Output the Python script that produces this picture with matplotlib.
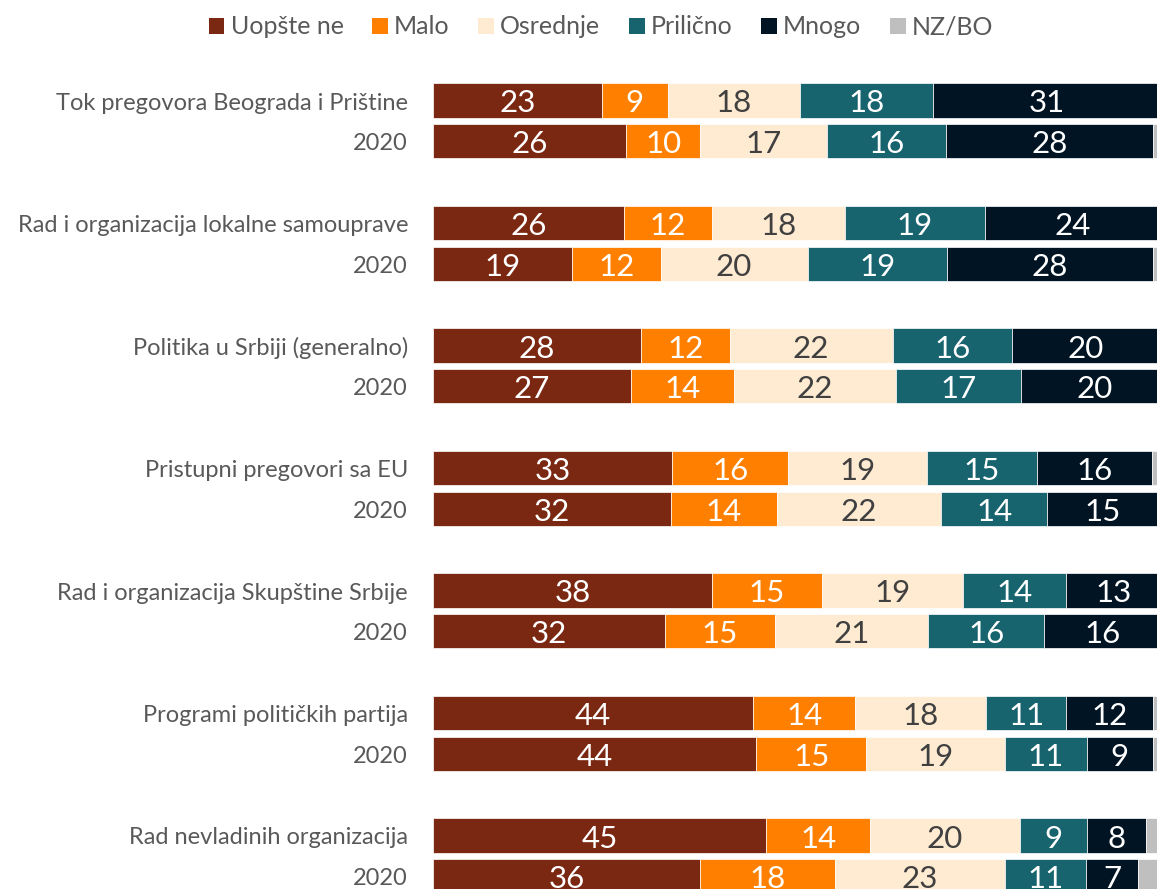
import matplotlib
matplotlib.use("Agg")
import matplotlib.pyplot as plt
from matplotlib.patches import Patch
import numpy as np

plt.rcParams["font.family"] = ["Lato", "DejaVu Sans"]

categories = [
    "Tok pregovora Beograda i Prištine",
    "Rad i organizacija lokalne samouprave",
    "Politika u Srbiji (generalno)",
    "Pristupni pregovori sa EU",
    "Rad i organizacija Skupštine Srbije",
    "Programi političkih partija",
    "Rad nevladinih organizacija",
]
year_label = "2020"

series_names = ["Uopšte ne", "Malo", "Osrednje", "Prilično", "Mnogo", "NZ/BO"]
colors = ["#7B2812", "#FF7F00", "#FFEBD2", "#17636E", "#001423", "#BFBFBF"]
text_colors = ["white", "white", "#404040", "white", "white", None]

# rows: each category followed by its 2020 row
uopste_ne = [23.0, 26.3, 26.0, 19.0, 28.3, 27.0, 32.6, 32.4, 38.0, 31.6, 43.6, 44.0, 45.4, 36.4]
malo = [9.0, 10.1, 12.0, 12.0, 12.1, 14.0, 15.8, 14.4, 15.0, 15.0, 13.9, 15.0, 14.1, 18.3]
osrednje = [18.0, 17.2, 18.1, 20.0, 22.2, 22.0, 18.9, 22.4, 19.2, 20.8, 17.8, 18.9, 20.4, 23.2]
prilicno = [18.0, 16.2, 19.0, 19.0, 16.2, 17.1, 14.9, 14.4, 14.0, 15.8, 10.9, 11.1, 9.1, 11.0]
mnogo = [31.0, 28.2, 24.0, 28.0, 20.0, 19.9, 15.7, 15.2, 13.0, 16.0, 11.8, 9.0, 8.0, 7.1]
nz_bo = [1.0, 2.0, 0.9, 2.0, 1.2, 0.0, 2.1, 1.2, 0.8, 0.8, 2.0, 2.0, 3.0, 4.0]

data = np.array([uopste_ne, malo, osrednje, prilicno, mnogo, nz_bo])

W, H = 1157, 889
fig = plt.figure(figsize=(W / 100, H / 100), dpi=100)

# axes in pixel units; x scale runs past the right edge of the figure
x0_px, px_per_pct = 432.7, 7.35
ax = fig.add_axes([x0_px / W, 0, 100 * px_per_pct / W, 1])
ax.set_xlim(0, 100)
ax.set_ylim(H, 0)
ax.axis("off")

first_row, row_gap, group_gap, bar_h = 100.5, 40.7, 122.5, 34.3
n_rows = data.shape[1]
ypos = np.array([first_row + (i // 2) * group_gap + (i % 2) * row_gap for i in range(n_rows)])

left = np.zeros(n_rows)
for k in range(len(series_names)):
    vals = data[k]
    ax.barh(ypos, vals, left=left, height=bar_h, color=colors[k],
            edgecolor="white", linewidth=0.5)
    if text_colors[k] is not None:
        for y, l, v in zip(ypos, left, vals):
            if v > 0:
                ax.text(l + v / 2, y + 3, f"{int(round(v))}", ha="center", va="center",
                        fontsize=22.5, color=text_colors[k])
    left += vals

label_x = 408 / W
for i, y in enumerate(ypos):
    txt = categories[i // 2] if i % 2 == 0 else year_label
    fig.text(label_x, 1 - (y + 2.5) / H, txt, ha="right", va="center",
             fontsize=17, color="#595959")

handles = [Patch(facecolor=c, edgecolor="none") for c in colors]
fig.legend(handles, series_names, loc="center", bbox_to_anchor=(601 / W, 1 - 27 / H),
           ncol=6, frameon=False, fontsize=18, handlelength=0.62, handleheight=0.62,
           handletextpad=0.25, columnspacing=1.15, labelcolor="#595959")

fig.savefig("out.png", dpi=100)
